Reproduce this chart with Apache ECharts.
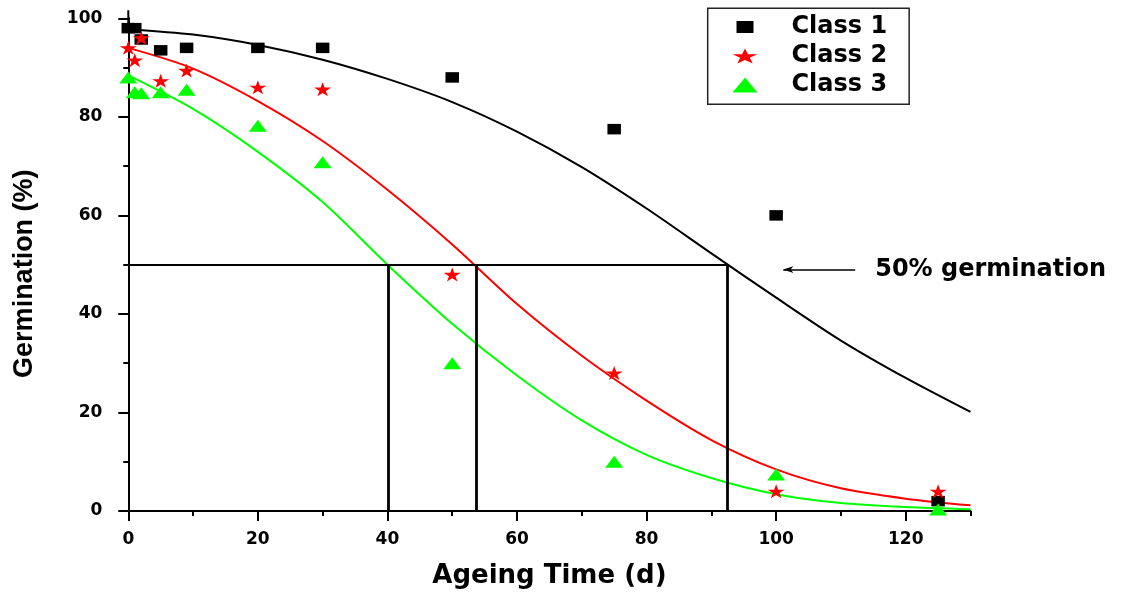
<!DOCTYPE html>
<html>
<head>
<meta charset="utf-8">
<title>Germination vs Ageing Time</title>
<script src="https://cdn.jsdelivr.net/npm/echarts@6/dist/echarts.min.js"></script>
<style>
    html, body { margin: 0; padding: 0; background: #fff; }
    #chart { width: 1128px; height: 594px; }
</style>
</head>
<body>
<div id="chart"></div>
<script>
// ageing time of the measured samples (d)
var ageX = [0, 1, 2, 5, 9, 20, 30, 50, 75, 100, 125];
// germination (%) per class
var class1Y = [98, 98, 95.7, 93.5, 94, 94, 94, 88, 77.5, 60, 2];
var class2Y = [94, 91.5, 96, 87.3, 89.4, 86, 85.6, 48, 28, 4, 4];
var class3Y = [88, 85, 84.8, 85, 85.5, 78.2, 70.8, 30, 10, 7.4, 0.3];

// fitted curves
var fitX = [0, 10, 20, 30, 40, 50, 60, 70, 80, 90, 100, 110, 120, 130];
var fit1Y = [97.8, 96.7, 94.6, 91.6, 87.7, 83.0, 77.0, 69.8, 61.4, 52.3, 43.3, 34.6, 27.0, 20.1];
var fit2Y = [94, 89.8, 83.2, 75.1, 65.2, 54.1, 42.0, 31.5, 22.4, 14.4, 8.45, 4.6, 2.5, 1.15];
var fit3Y = [88.4, 81.6, 72.9, 62.7, 50.0, 38.0, 27.5, 18.4, 11.4, 6.7, 3.4, 1.6, 0.8, 0.35];

// 50% germination level and where each curve crosses it
var halfLevel = 50;
var halfX = [40.15, 53.7, 92.5];

// annotation arrow
var arrowFromX = 112.2;
var arrowToX = 101.1;
var arrowY = 49;
var arrowText = '50% germination';

// ticks
var xTicks = [0, 20, 40, 60, 80, 100, 120];
var yTicks = [0, 20, 40, 60, 80, 100];

var FONT = "'DejaVu Sans', 'Liberation Sans', sans-serif";
var STAR = 'path://M100,0L122.45,69.1L195.1,69.1L136.3,111.8L158.8,180.9L100,138.2L41.2,180.9L63.7,111.8L4.9,69.1L77.55,69.1Z';
// square inside a padded box so the legend icon is not stretched
var SQUARE_ICON = 'path://M0,0M25,15M4,1.5L21,1.5L21,13.5L4,13.5Z';

function pairs(xs, ys) {
    return xs.map(function (x, i) {
        return [x, ys[i]];
    });
}

// drop lines from the 50% level down to the axis
function halfLines() {
    var lines = [[{coord: [0, halfLevel], lineStyle: {width: 2}}, {coord: [halfX[halfX.length - 1], halfLevel]}]];
    halfX.forEach(function (x) {
        lines.push([{coord: [x, 0]}, {coord: [x, halfLevel]}]);
    });
    return lines;
}

function fitSeries(name, ys, color) {
    return {
        name: name,
        type: 'line',
        data: pairs(fitX, ys),
        smooth: 0.3,
        symbol: 'none',
        silent: true,
        lineStyle: {color: color, width: 2},
        z: 2
    };
}

function pointSeries(name, ys, symbol, size, color) {
    return {
        name: name,
        type: 'scatter',
        data: pairs(ageX, ys),
        symbol: symbol,
        symbolSize: size,
        itemStyle: {color: color, opacity: 1},
        z: 5
    };
}

var axisLineStyle = {color: '#000', width: 2};

var option = {
    animation: false,
    backgroundColor: '#fff',
    grid: {left: 128.3, right: 157.5, top: 18.3, bottom: 82.3, containLabel: false},
    legend: {
        orient: 'vertical',
        left: 707.7,
        top: 8.3,
        selectedMode: false,
        itemWidth: 25,
        itemHeight: 15,
        itemGap: 5,
        symbolKeepAspect: false,
        padding: [6.7, 22, 7.3, 24.8],
        borderColor: '#222',
        borderWidth: 1.5,
        textStyle: {fontFamily: FONT, fontWeight: 'bold', fontSize: 24, color: '#000', padding: [0, 0, 0, 29]},
        data: [
            {name: 'Class 1', icon: SQUARE_ICON},
            {name: 'Class 2', icon: STAR},
            {name: 'Class 3', icon: 'triangle'}
        ]
    },
    xAxis: {
        type: 'value',
        min: 0,
        max: 130.0001,
        interval: 20,
        name: 'Ageing Time (d)',
        nameLocation: 'middle',
        nameGap: 52,
        nameTextStyle: {fontFamily: FONT, fontWeight: 'bold', fontSize: 26, color: '#000'},
        axisLine: {show: true, lineStyle: axisLineStyle},
        axisTick: {show: true, length: 10, customValues: xTicks, lineStyle: axisLineStyle},
        minorTick: {show: true, splitNumber: 2, length: 5, lineStyle: axisLineStyle},
        axisLabel: {customValues: xTicks, margin: 20, fontFamily: FONT, fontWeight: 'bold', fontSize: 17, color: '#000'},
        splitLine: {show: false},
        minorSplitLine: {show: false}
    },
    yAxis: {
        type: 'value',
        min: 0,
        max: 100,
        interval: 20,
        name: 'Germination (%)',
        nameLocation: 'middle',
        nameGap: 90,
        nameTextStyle: {
            fontFamily: "'Liberation Sans', Arial, sans-serif",
            fontWeight: 'bold',
            fontSize: 27,
            color: '#000',
            padding: [0, 18, 0, 0]
        },
        axisLine: {show: true, lineStyle: axisLineStyle, symbol: ['none', 'rect'], symbolSize: [2, 16]},
        axisTick: {show: true, length: 10, customValues: yTicks, lineStyle: axisLineStyle},
        minorTick: {show: true, splitNumber: 2, length: 5, lineStyle: axisLineStyle},
        axisLabel: {customValues: yTicks, margin: 26, fontFamily: FONT, fontWeight: 'bold', fontSize: 17, color: '#000'},
        splitLine: {show: false},
        minorSplitLine: {show: false}
    },
    series: [
        fitSeries('Class 1 fit', fit1Y, '#000'),
        fitSeries('Class 2 fit', fit2Y, '#ff0000'),
        fitSeries('Class 3 fit', fit3Y, '#00ff00'),
        {
            name: 'half',
            type: 'line',
            data: [],
            markLine: {
                silent: true,
                symbol: 'none',
                label: {show: false},
                lineStyle: {color: '#000', width: 2.8, type: 'solid'},
                emphasis: {disabled: true},
                data: halfLines()
            }
        },
        {
            name: 'note',
            type: 'line',
            data: [],
            markLine: {
                silent: true,
                symbol: ['none', 'arrow'],
                symbolSize: [5, 10],
                lineStyle: {color: '#000', width: 1.5, type: 'solid'},
                emphasis: {disabled: true},
                label: {
                    show: true,
                    position: 'start',
                    distance: 20,
                    formatter: arrowText,
                    fontFamily: FONT,
                    fontWeight: 'bold',
                    fontSize: 24,
                    color: '#000'
                },
                data: [[{coord: [arrowFromX, arrowY]}, {coord: [arrowToX, arrowY]}]]
            }
        },
        pointSeries('Class 1', class1Y, 'rect', [13.5, 10.5], '#000'),
        pointSeries('Class 2', class2Y, STAR, [17, 14], '#ff0000'),
        pointSeries('Class 3', class3Y, 'triangle', [18, 12], '#00ff00')
    ]
};

var chart = echarts.init(document.getElementById('chart'));
chart.setOption(option);
</script>
</body>
</html>
